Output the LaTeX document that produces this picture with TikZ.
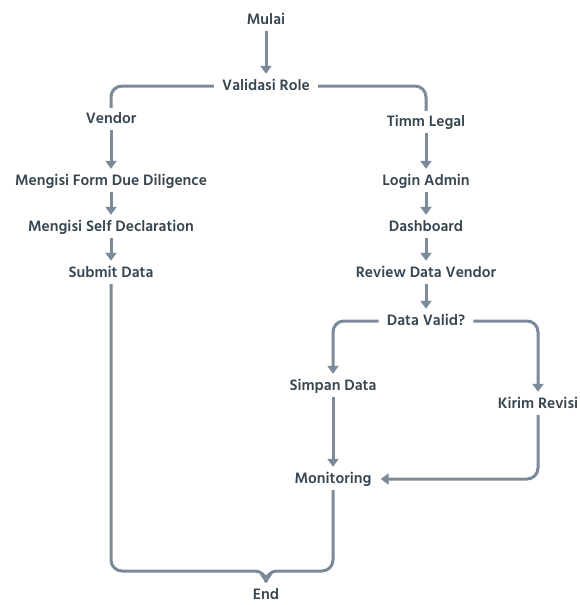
\documentclass[tikz,border=0pt]{standalone}
\usepackage{fontspec}
\setmainfont{Hind Madurai}[UprightFont=* SemiBold]
\usetikzlibrary{arrows.meta}
\definecolor{linec}{HTML}{7A8A99}
\definecolor{textc}{HTML}{36454F}
\tikzset{
  lbl/.style={text=textc, font=\fontsize{15.5}{17}\selectfont, inner xsep=8pt, inner ysep=5pt, text height=10pt, text depth=2pt},
  conn/.style={draw=linec, line width=3pt, rounded corners=11pt},
  arr/.style={conn, -{Triangle[width=11pt,length=8pt]}, shorten >=1pt}
}
\begin{document}
\begin{tikzpicture}[x=1pt,y=-1pt]
\useasboundingbox (0,0) rectangle (579,605);
\node[lbl] (mulai) at (266,20) {Mulai};
\node[lbl] (valid) at (266,86) {Validasi Role};
\node[lbl] (vendor) at (111,119) {Vendor};
\node[lbl] (form) at (111,181) {Mengisi Form Due Diligence};
\node[lbl] (self) at (111,227) {Mengisi Self Declaration};
\node[lbl] (submit) at (111,273) {Submit Data};
\node[lbl] (timm) at (426,122) {Timm Legal};
\node[lbl] (login) at (426,181) {Login Admin};
\node[lbl] (dash) at (426,227) {Dashboard};
\node[lbl] (review) at (426,273) {Review Data Vendor};
\node[lbl] (dv) at (426,321) {Data Valid?};
\node[lbl] (simpan) at (333,386) {Simpan Data};
\node[lbl] (kirim) at (538,404) {Kirim Revisi};
\node[lbl] (mon) at (333,479) {Monitoring};
\node[lbl] (end) at (266,595) {End};
\coordinate (join) at (266,571);

\draw[arr] (mulai) -- (valid);
\draw[conn] (valid.west) -| (vendor.north);
\draw[conn] (valid.east) -| (timm.north);
\draw[arr] (vendor) -- (form);
\draw[arr] (form) -- (self);
\draw[arr] (self) -- (submit);
\draw[arr] (timm) -- (login);
\draw[arr] (login) -- (dash);
\draw[arr] (dash) -- (review);
\draw[arr] (review) -- (dv);
\draw[arr] (dv.west) -| (simpan.north);
\draw[arr] (dv.east) -| (kirim.north);
\draw[arr] (simpan) -- (mon);
\draw[arr] (kirim.south) |- (mon.east);
\draw[arr] (submit.south) |- (join) -- (end.north);
\draw[arr] (mon.south) |- (join) -- (end.north);
\end{tikzpicture}
\end{document}
